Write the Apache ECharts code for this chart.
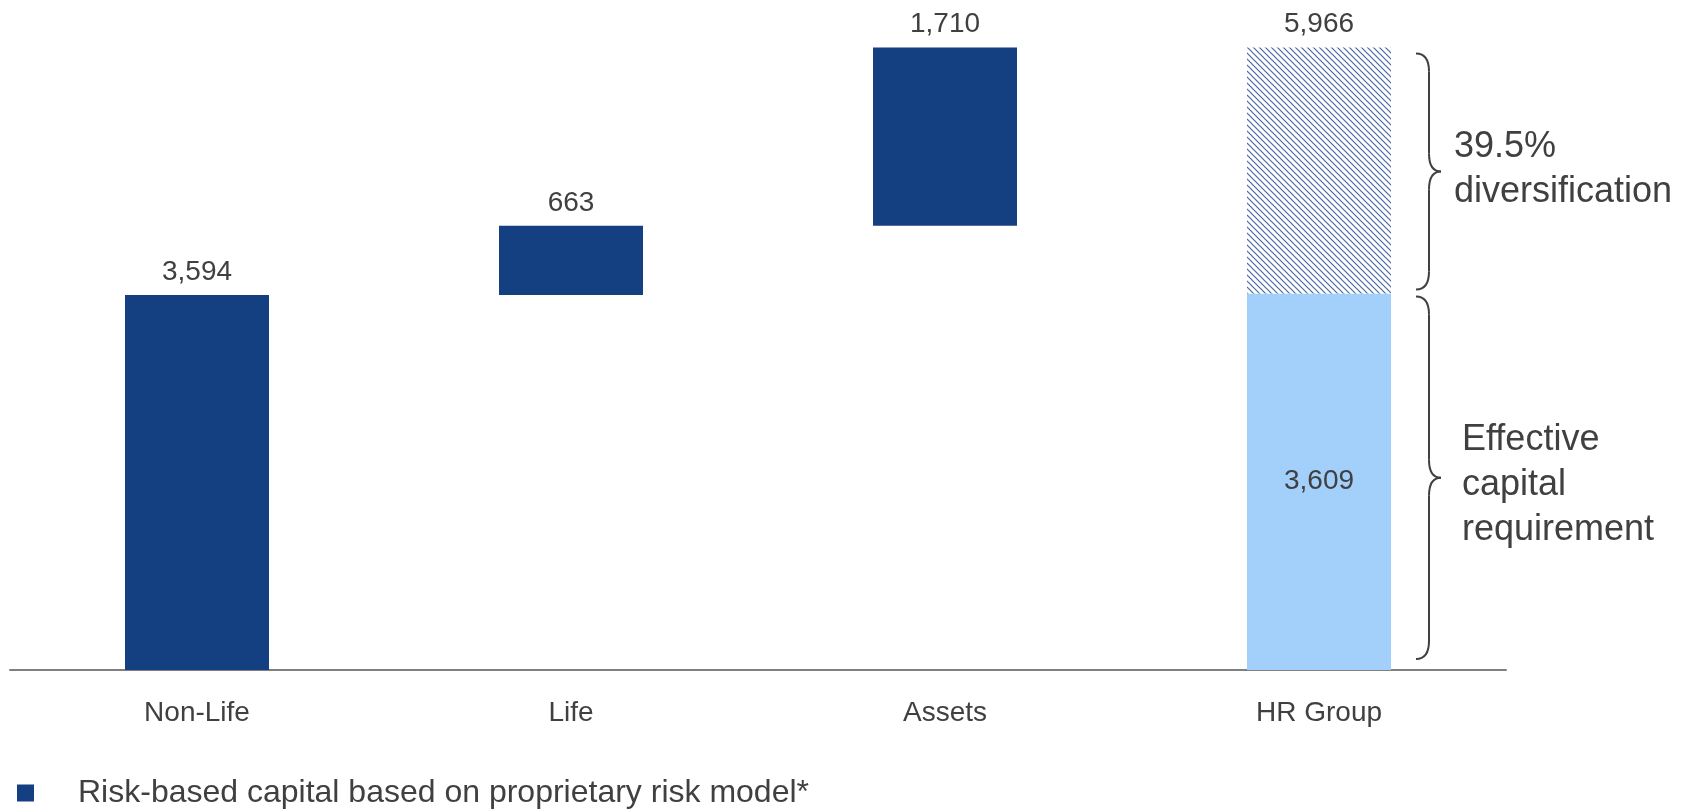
<!DOCTYPE html>
<html>
<head>
<meta charset="utf-8">
<script src="https://cdn.jsdelivr.net/npm/echarts@6/dist/echarts.min.js"></script>
<style>
  html, body { margin: 0; padding: 0; background: #fff; }
  #main { width: 1694px; height: 809px; }
</style>
</head>
<body>
<div id="main"></div>
<script>
// data
const categories = ['Non-Life', 'Life', 'Assets', 'HR Group']
const riskValues = [3594, 663, 1710, null]
const hrEffective = 3609
const hrGross = 5966
const legendName = 'Risk-based capital based on proprietary risk model*'
const braceTexts = ['39.5%\ndiversification', 'Effective\ncapital\nrequirement']

const FONT = '"Liberation Sans", Arial, sans-serif'
const TEXT = '#404040'
const fmt = (v) => Number(v).toLocaleString('en-US')

// invisible base for the waterfall steps
let running = 0
const baseValues = riskValues.map((v) => {
  if (v == null) return 0
  const b = running
  running += v
  return b
})
const dash = (i, v) => categories.map((_, k) => (k === i ? v : '-'))

// hatch pattern for the diversification part
const hatch = document.createElement('canvas')
hatch.width = 6
hatch.height = 6
const ctx = hatch.getContext('2d')
ctx.fillStyle = '#fff'
ctx.fillRect(0, 0, 6, 6)
ctx.strokeStyle = '#4a68a3'
ctx.lineWidth = 1.2
ctx.beginPath()
ctx.moveTo(-1, -1); ctx.lineTo(7, 7)
ctx.moveTo(-4, 2); ctx.lineTo(1, 7)
ctx.moveTo(5, -1); ctx.lineTo(8, 2)
ctx.stroke()

var myChart = echarts.init(document.getElementById('main'))

function renderBrace(params, api) {
  const top = api.coord([api.value(0), api.value(1)])
  const bot = api.coord([api.value(0), api.value(2)])
  const idx = params.dataIndex
  const y0 = top[1] + (idx === 0 ? 6 : 3)
  const y1 = bot[1] - (idx === 0 ? 4 : 11)
  const ym = (y0 + y1) / 2
  const xa = top[0] + 97
  const xb = top[0] + 110
  const xt = top[0] + 122
  const h = 18
  const st = { stroke: '#404040', lineWidth: 2, fill: null }
  return {
    type: 'group',
    children: [
      { type: 'bezierCurve', shape: { x1: xa, y1: y0, x2: xb, y2: y0 + h, cpx1: xb, cpy1: y0 }, style: st },
      { type: 'line', shape: { x1: xb, y1: y0 + h, x2: xb, y2: ym - h }, style: st },
      { type: 'bezierCurve', shape: { x1: xb, y1: ym - h, x2: xt, y2: ym, cpx1: xb, cpy1: ym }, style: st },
      { type: 'bezierCurve', shape: { x1: xt, y1: ym, x2: xb, y2: ym + h, cpx1: xb, cpy1: ym }, style: st },
      { type: 'line', shape: { x1: xb, y1: ym + h, x2: xb, y2: y1 - h }, style: st },
      { type: 'bezierCurve', shape: { x1: xb, y1: y1 - h, x2: xa, y2: y1, cpx1: xb, cpy1: y1 }, style: st },
      {
        type: 'text',
        x: xt + (idx === 0 ? 13 : 21),
        y: ym + (idx === 0 ? -2 : 7),
        style: {
          text: braceTexts[idx],
          fill: TEXT,
          font: '36px ' + FONT,
          lineHeight: 45,
          verticalAlign: 'middle',
          align: 'left'
        }
      }
    ]
  }
}

var option = {
  animation: false,
  textStyle: { fontFamily: FONT },
  grid: { left: 10, right: 188, top: 44, bottom: 139 },
  legend: {
    data: [legendName],
    left: 12,
    top: 772,
    itemWidth: 17,
    itemHeight: 17,
    icon: 'rect',
    textStyle: { fontSize: 32, color: TEXT, fontFamily: FONT, padding: [0, 0, 0, 39] }
  },
  xAxis: {
    type: 'category',
    data: categories,
    axisLine: { lineStyle: { color: '#7f7f7f', width: 2 } },
    axisTick: { show: false },
    axisLabel: { color: TEXT, fontSize: 28, margin: 29, fontFamily: FONT }
  },
  yAxis: {
    type: 'value',
    min: 0,
    max: 6000,
    show: false,
    splitLine: { show: false }
  },
  series: [
    {
      type: 'bar',
      stack: 'w',
      barWidth: 144,
      silent: true,
      itemStyle: { color: 'transparent' },
      data: baseValues
    },
    {
      name: legendName,
      type: 'bar',
      stack: 'w',
      barWidth: 144,
      itemStyle: { color: '#143f80' },
      label: { show: true, position: 'top', distance: 9, color: TEXT, fontSize: 28, formatter: (p) => fmt(p.value) },
      data: riskValues.map((v) => (v == null ? '-' : v))
    },
    {
      name: 'Effective',
      type: 'bar',
      stack: 'w',
      barWidth: 144,
      itemStyle: { color: '#a3cffb' },
      label: { show: true, position: 'inside', color: TEXT, fontSize: 28, formatter: (p) => fmt(p.value) },
      data: dash(3, hrEffective)
    },
    {
      name: 'Diversification',
      type: 'bar',
      stack: 'w',
      barWidth: 144,
      itemStyle: { color: { image: hatch, repeat: 'repeat' } },
      label: { show: true, position: 'top', distance: 9, color: TEXT, fontSize: 28, formatter: () => fmt(hrGross) },
      data: dash(3, hrGross - hrEffective)
    },
    {
      type: 'custom',
      silent: true,
      renderItem: renderBrace,
      encode: { x: 0, y: [1, 2] },
      data: [[3, hrGross, hrEffective], [3, hrEffective, 0]]
    }
  ]
}

myChart.setOption(option)
window.onresize = function () {
  myChart.resize()
}
</script>
</body>
</html>
